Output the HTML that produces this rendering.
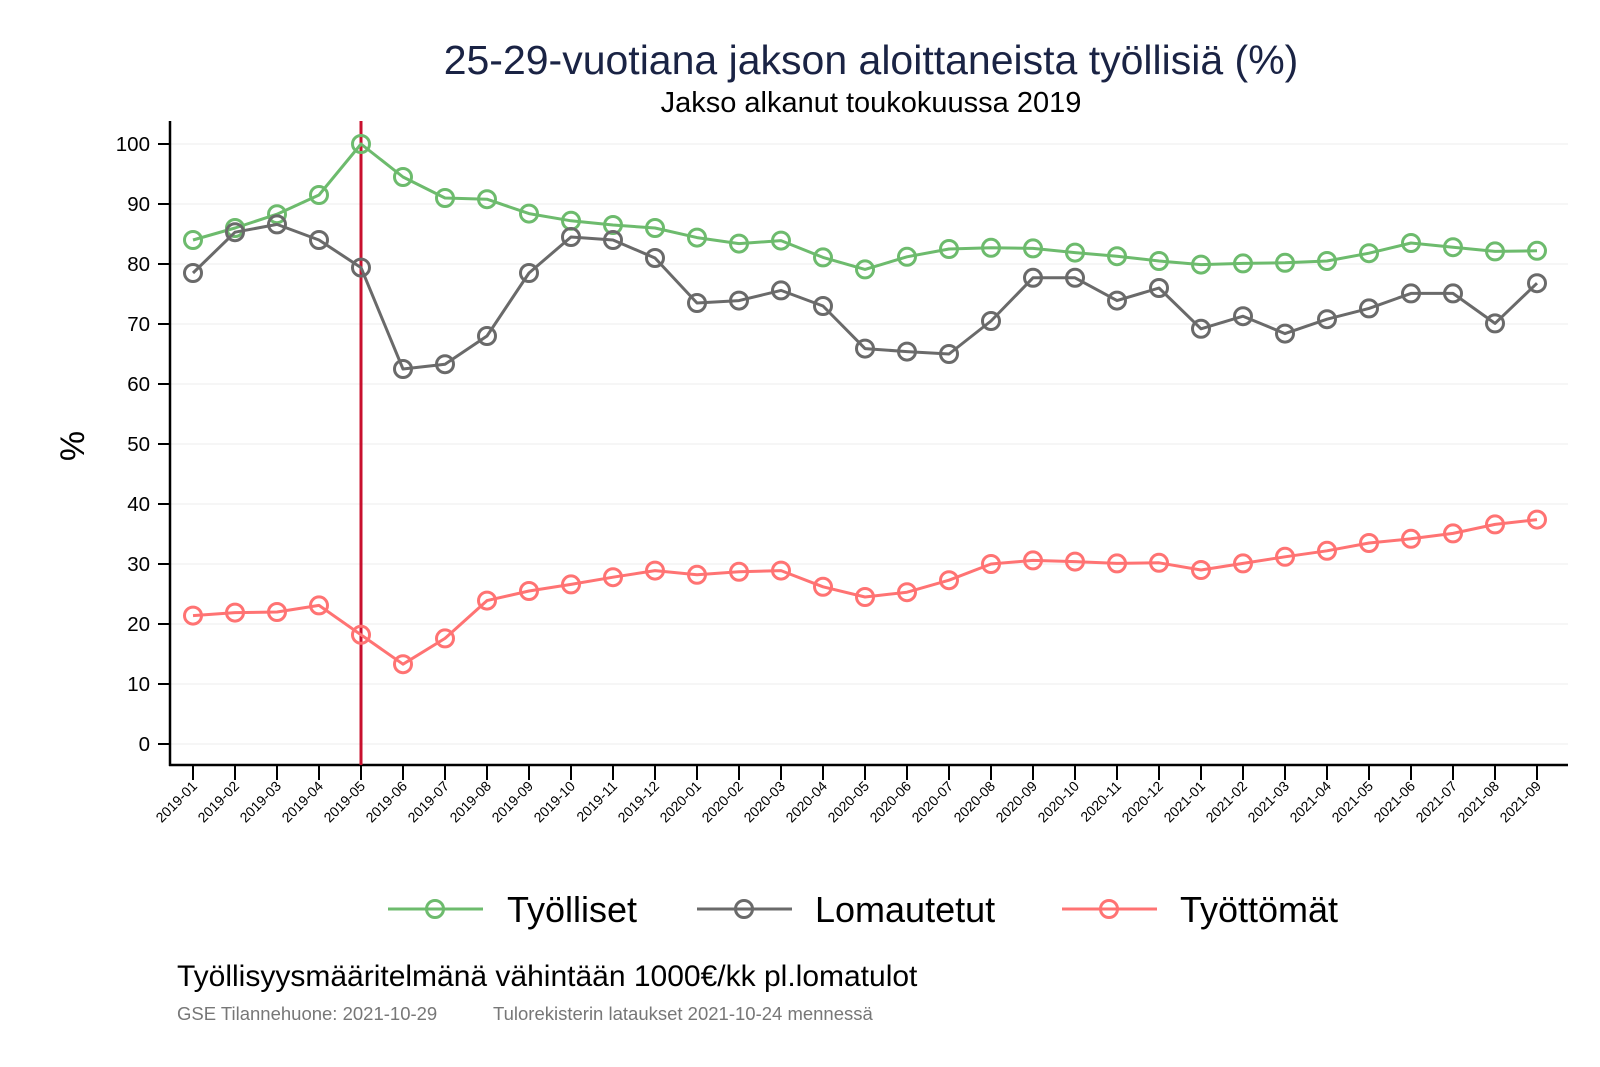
<!DOCTYPE html>
<html><head><meta charset="utf-8"><style>
body{margin:0;background:#fff}
svg{display:block;font-family:"Liberation Sans",sans-serif}
</style></head><body>
<svg id="s" width="1600" height="1067" viewBox="0 0 1600 1067" xmlns="http://www.w3.org/2000/svg">
<rect width="1600" height="1067" fill="#fff"/>
<text x="871" y="74" font-size="41" text-anchor="middle" fill="#1a2344">25-29-vuotiana jakson aloittaneista työllisiä (%)</text>
<text x="871" y="112" font-size="29" text-anchor="middle" fill="#000">Jakso alkanut toukokuussa 2019</text>
<text transform="translate(84,446) rotate(-90)" font-size="34" text-anchor="middle">%</text>
<g id="g"></g>
<g font-size="36">
<line x1="388" y1="909" x2="483" y2="909" stroke="#6dbb6d" stroke-width="3"/><circle cx="435" cy="909" r="8.5" fill="none" stroke="#6dbb6d" stroke-width="3"/>
<text x="507" y="922">Työlliset</text>
<line x1="697" y1="909" x2="792" y2="909" stroke="#6a6a6a" stroke-width="3"/><circle cx="744" cy="909" r="8.5" fill="none" stroke="#6a6a6a" stroke-width="3"/>
<text x="815" y="922">Lomautetut</text>
<line x1="1062" y1="909" x2="1157" y2="909" stroke="#ff7373" stroke-width="3"/><circle cx="1109" cy="909" r="8.5" fill="none" stroke="#ff7373" stroke-width="3"/>
<text x="1180" y="922">Työttömät</text>
</g>
<text x="177" y="986" font-size="30">Työllisyysmääritelmänä vähintään 1000€/kk pl.lomatulot</text>
<text x="177" y="1020" font-size="18.5" fill="#777">GSE Tilannehuone: 2021-10-29</text>
<text x="493" y="1020" font-size="18.5" fill="#777">Tulorekisterin lataukset 2021-10-24 mennessä</text>
</svg>
<script>
var g=document.getElementById("g"),h="";
function X(i){return 193+i*42}function Y(v){return 744-v*6}
for(var v=0;v<=100;v+=10){var y=Y(v);h+='<line x1="170" x2="1568" y1="'+y+'" y2="'+y+'" stroke="#eee" stroke-width="1"/>';
h+='<line x1="158" x2="170" y1="'+y+'" y2="'+y+'" stroke="#000" stroke-width="2"/>';
h+='<text x="150" y="'+(y+7)+'" font-size="20.5" text-anchor="end">'+v+'</text>';}
var labs=[];for(var i=0;i<33;i++){var yr=2019+Math.floor(i/12),m=i%12+1;labs.push(yr+"-"+(m<10?"0":"")+m);}
for(var i=0;i<33;i++){var x=X(i);h+='<line x1="'+x+'" x2="'+x+'" y1="765" y2="780" stroke="#000" stroke-width="2"/>';
h+='<text transform="translate('+(x+5)+',787) rotate(-45)" font-size="14" text-anchor="end">'+labs[i]+'</text>';}
h+='<line x1="170" x2="170" y1="121" y2="766" stroke="#000" stroke-width="2.5"/>';
h+='<line x1="169" x2="1568" y1="765" y2="765" stroke="#000" stroke-width="2.5"/>';
h+='<line x1="361" x2="361" y1="121" y2="765" stroke="#c8102e" stroke-width="3"/>';
var S=[["#6dbb6d",[84,86,88.3,91.5,100,94.5,91,90.8,88.4,87.2,86.5,86,84.4,83.4,83.9,81.1,79.1,81.2,82.5,82.7,82.6,81.9,81.3,80.5,79.9,80.1,80.2,80.5,81.8,83.5,82.8,82.1,82.2]],
["#6a6a6a",[78.5,85.3,86.6,84,79.4,62.5,63.3,68,78.5,84.5,84,81,73.5,73.9,75.6,73,65.9,65.4,65,70.5,77.7,77.7,73.9,76,69.2,71.3,68.4,70.8,72.6,75.1,75.1,70.1,76.8]],
["#ff7373",[21.4,21.9,22,23.1,18.2,13.3,17.6,23.9,25.5,26.6,27.8,28.9,28.2,28.7,28.9,26.2,24.5,25.3,27.3,30,30.6,30.4,30.1,30.2,29,30.1,31.2,32.2,33.5,34.2,35.1,36.6,37.4]]];
S.forEach(function(s){var p=s[1].map(function(v,i){return X(i)+","+Y(v)}).join(" ");
h+='<polyline points="'+p+'" fill="none" stroke="'+s[0]+'" stroke-width="3" stroke-linejoin="round"/>';
s[1].forEach(function(v,i){h+='<circle cx="'+X(i)+'" cy="'+Y(v)+'" r="8.5" fill="none" stroke="'+s[0]+'" stroke-width="3"/>';});});
g.innerHTML=h;
</script>
</body></html>
